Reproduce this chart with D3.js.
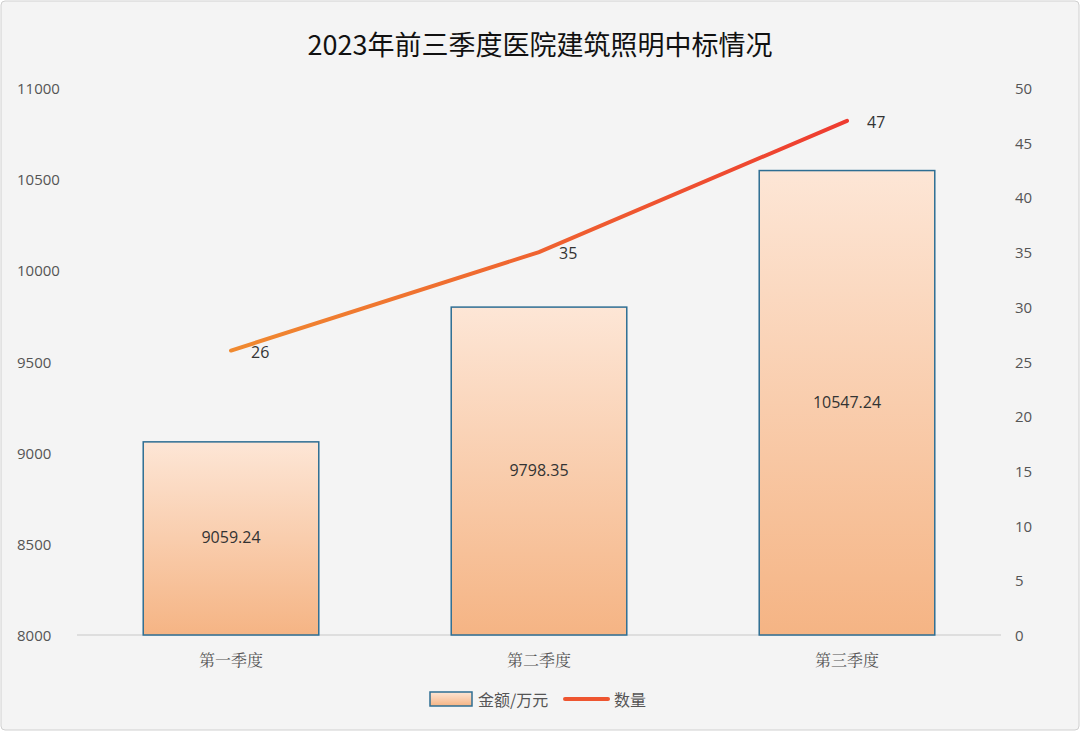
<!DOCTYPE html>
<html><head><meta charset="utf-8">
<script src="https://cdn.jsdelivr.net/npm/d3@7"></script>
<style>body{margin:0;background:#fff;} text{font-family:"Noto Sans CJK SC","Open Sans",sans-serif;}</style>
</head><body>
<svg id="chart" width="1080" height="731"></svg>
<script>
const categories = ["第一季度", "第二季度", "第三季度"];
const amounts = [9059.24, 9798.35, 10547.24];
const counts = [26, 35, 47];
const leftTicks = [8000, 8500, 9000, 9500, 10000, 10500, 11000];
const rightTicks = [0, 5, 10, 15, 20, 25, 30, 35, 40, 45, 50];

const svg = d3.select("#chart");
svg.append("rect").attr("x", 1).attr("y", 1).attr("width", 1078).attr("height", 729)
  .attr("rx", 4).attr("fill", "#f4f4f4").attr("stroke", "#d0d0d0");

const defs = svg.append("defs");
const bg = defs.append("linearGradient").attr("id", "barGrad").attr("x1", 0).attr("y1", 0).attr("x2", 0).attr("y2", 1);
bg.append("stop").attr("offset", "0%").attr("stop-color", "#fde6d6");
bg.append("stop").attr("offset", "100%").attr("stop-color", "#f5b484");
const lg = defs.append("linearGradient").attr("id", "lineGrad").attr("gradientUnits", "userSpaceOnUse")
  .attr("x1", 230).attr("y1", 0).attr("x2", 850).attr("y2", 0);
lg.append("stop").attr("offset", "0%").attr("stop-color", "#f08a30");
lg.append("stop").attr("offset", "100%").attr("stop-color", "#ee3b30");

const plotLeft = 77, plotRight = 1001, plotTop = 88, plotBottom = 635;
const x = d3.scaleBand().domain(categories).range([plotLeft, plotRight]).paddingInner(0.43).paddingOuter(0.215);
const yL = d3.scaleLinear().domain([8000, 11000]).range([plotBottom, plotTop]);
const yR = d3.scaleLinear().domain([0, 50]).range([plotBottom, plotTop]);

svg.append("text").attr("x", 540).attr("y", 55).attr("text-anchor", "middle")
  .attr("font-size", 27).attr("fill", "#111").text("2023年前三季度医院建筑照明中标情况");

// axes
svg.append("g").selectAll("text").data(leftTicks).enter().append("text")
  .attr("x", 17).attr("y", d => yL(d) + 6).attr("font-size", 15).attr("fill", "#555")
  .style("font-family", "Open Sans").text(d => d);
svg.append("g").selectAll("text").data(rightTicks).enter().append("text")
  .attr("x", 1015).attr("y", d => yR(d) + 6).attr("font-size", 15).attr("fill", "#555")
  .style("font-family", "Open Sans").text(d => d);
svg.append("line").attr("x1", plotLeft).attr("x2", plotRight).attr("y1", plotBottom).attr("y2", plotBottom)
  .attr("stroke", "#c8c8c8");
svg.append("g").selectAll("text").data(categories).enter().append("text")
  .attr("x", d => x(d) + x.bandwidth() / 2).attr("y", 666).attr("text-anchor", "middle")
  .attr("font-size", 16).attr("fill", "#555").style("font-family", "Noto Serif CJK SC, Noto Sans CJK SC").text(d => d);

// bars
svg.append("g").selectAll("rect").data(amounts).enter().append("rect")
  .attr("x", (d, i) => x(categories[i])).attr("width", x.bandwidth())
  .attr("y", d => yL(d)).attr("height", d => plotBottom - yL(d))
  .attr("fill", "url(#barGrad)").attr("stroke", "#2e6e93").attr("stroke-width", 1.5);
svg.append("g").selectAll("text").data(amounts).enter().append("text")
  .attr("x", (d, i) => x(categories[i]) + x.bandwidth() / 2)
  .attr("y", d => (yL(d) + plotBottom) / 2 + 5).attr("text-anchor", "middle")
  .attr("font-size", 16).attr("fill", "#333").style("font-family", "Open Sans").text(d => d.toFixed(2));

// line
const line = d3.line().x((d, i) => x(categories[i]) + x.bandwidth() / 2).y(d => yR(d));
svg.append("path").datum(counts).attr("d", line).attr("fill", "none")
  .attr("stroke", "url(#lineGrad)").attr("stroke-width", 4).attr("stroke-linecap", "round");
svg.append("g").selectAll("text").data(counts).enter().append("text")
  .attr("x", (d, i) => x(categories[i]) + x.bandwidth() / 2 + 20).attr("y", d => yR(d) + 7)
  .attr("font-size", 16).attr("fill", "#333").style("font-family", "Open Sans").text(d => d);

// legend
svg.append("rect").attr("x", 430).attr("y", 692).attr("width", 42).attr("height", 14)
  .attr("fill", "url(#barGrad)").attr("stroke", "#2e6e93").attr("stroke-width", 1.5);
svg.append("text").attr("x", 478).attr("y", 706).attr("font-size", 16).attr("fill", "#555").text("金额/万元");
svg.append("line").attr("x1", 565).attr("x2", 608).attr("y1", 699).attr("y2", 699)
  .attr("stroke", "#ee5530").attr("stroke-width", 4).attr("stroke-linecap", "round");
svg.append("text").attr("x", 614).attr("y", 706).attr("font-size", 16).attr("fill", "#555").text("数量");
</script>
</body></html>
